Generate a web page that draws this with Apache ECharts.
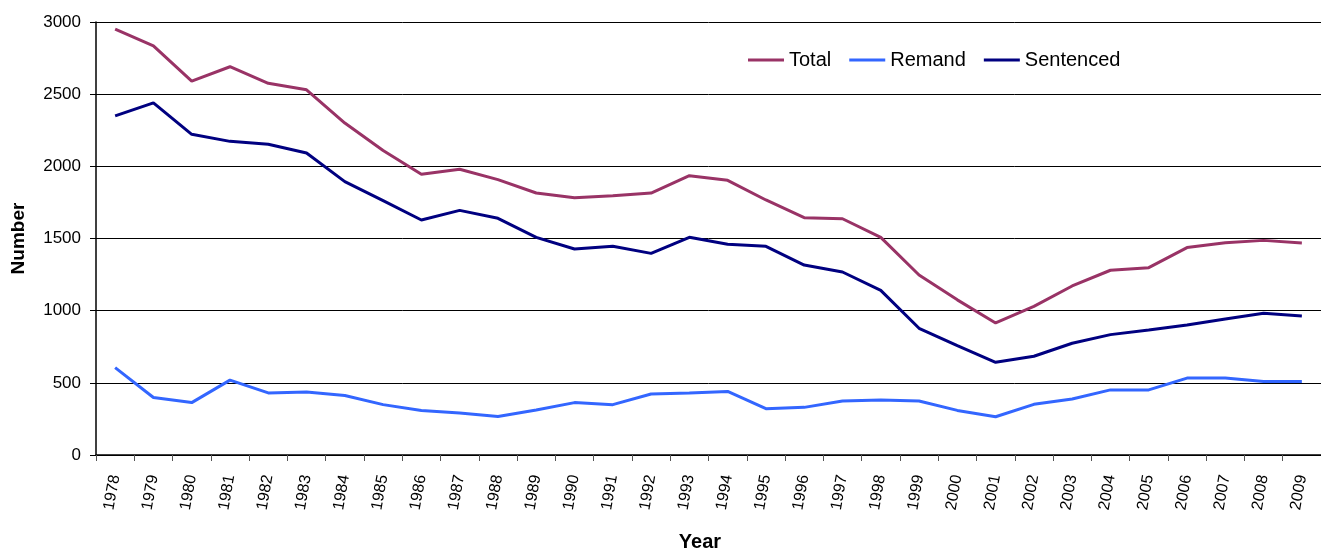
<!DOCTYPE html>
<html>
<head>
<meta charset="utf-8">
<script src="https://cdn.jsdelivr.net/npm/echarts@6/dist/echarts.min.js"></script>
<style>
  html, body { margin: 0; padding: 0; background: #fff; }
  #chart { width: 1321px; height: 549px; }
</style>
</head>
<body>
<div id="chart"></div>
<script>
// Prison population by year
const years = ['1978','1979','1980','1981','1982','1983','1984','1985','1986','1987',
  '1988','1989','1990','1991','1992','1993','1994','1995','1996','1997','1998','1999',
  '2000','2001','2002','2003','2004','2005','2006','2007','2008','2009'];

const total = [2950, 2835, 2590, 2690, 2575, 2530, 2300, 2110, 1945, 1980,
  1908, 1815, 1783, 1797, 1815, 1935, 1903, 1767, 1644, 1637, 1508, 1247,
  1075, 915, 1030, 1171, 1280, 1298, 1437, 1471, 1487, 1469];

const remand = [605, 398, 363, 519, 430, 437, 412, 349, 309, 291,
  267, 312, 363, 349, 423, 430, 440, 321, 330, 374, 381, 374,
  309, 265, 351, 388, 451, 451, 533, 533, 509, 509];

const sentenced = [2350, 2440, 2222, 2173, 2153, 2092, 1894, 1762, 1628, 1695,
  1640, 1508, 1427, 1446, 1397, 1508, 1460, 1446, 1316, 1268, 1141, 878,
  757, 642, 684, 774, 834, 866, 901, 942, 982, 963];

const yTicks = { min: 0, max: 3000, interval: 500 };

const FONT = '"Liberation Sans", Arial, sans-serif';

const chart = echarts.init(document.getElementById('chart'), null, { renderer: 'canvas' });

function lineSeries(name, data, color) {
  return {
    name: name,
    type: 'line',
    data: data,
    symbol: 'none',
    smooth: false,
    lineStyle: { color: color, width: 3 },
    itemStyle: { color: color },
    animation: false
  };
}

chart.setOption({
  animation: false,
  backgroundColor: '#fff',
  title: {
    text: 'Year',
    left: 700,
    top: 532,
    padding: 0,
    textAlign: 'center',
    textStyle: { fontFamily: FONT, fontSize: 20, fontWeight: 'bold', color: '#000' }
  },
  legend: {
    left: 748,
    top: 50,
    padding: 0,
    icon: 'rect',
    itemWidth: 36,
    itemHeight: 3,
    itemGap: 18,
    textStyle: { fontFamily: FONT, fontSize: 20, color: '#000' },
    data: ['Total', 'Remand', 'Sentenced']
  },
  grid: { left: 96, top: 22, width: 1235, height: 433, containLabel: false },
  xAxis: {
    type: 'category',
    data: years,
    boundaryGap: true,
    axisLine: { show: true, lineStyle: { color: '#000', width: 1.5 } },
    axisTick: { show: true, inside: false, length: 6, alignWithLabel: false, interval: 0,
      lineStyle: { color: '#555' } },
    axisLabel: { interval: 0, rotate: 80, margin: 20, fontFamily: FONT, fontSize: 16, color: '#000' },
    splitLine: { show: false }
  },
  yAxis: {
    type: 'value',
    min: yTicks.min,
    max: yTicks.max,
    interval: yTicks.interval,
    name: 'Number',
    nameLocation: 'middle',
    nameGap: 68,
    nameRotate: 90,
    nameTextStyle: { fontFamily: FONT, fontSize: 19, fontWeight: 'bold', color: '#000' },
    axisLine: { show: true, lineStyle: { color: '#000', width: 1.5 } },
    axisTick: { show: true, inside: false, length: 6, lineStyle: { color: '#000' } },
    axisLabel: { margin: 15, fontFamily: FONT, fontSize: 17, color: '#000',
      formatter: function (v) { return String(v); } },
    splitLine: { show: true, lineStyle: { color: '#000', width: 1 } }
  },
  series: [
    lineSeries('Total', total, '#993366'),
    lineSeries('Remand', remand, '#3366FF'),
    lineSeries('Sentenced', sentenced, '#000080')
  ]
});
</script>
</body>
</html>
